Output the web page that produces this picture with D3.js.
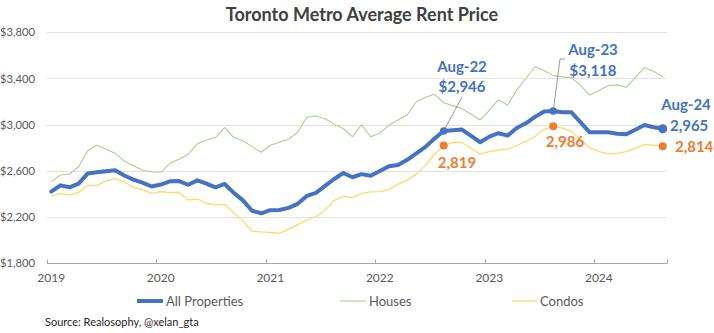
<!DOCTYPE html>
<html>
<head>
<meta charset="utf-8">
<script src="https://cdn.jsdelivr.net/npm/d3@7"></script>
<style>
  html, body { margin: 0; padding: 0; background: #fff; }
  svg { display: block; font-family: Lato, "Open Sans", sans-serif; }
</style>
</head>
<body>
<svg id="chart" width="714" height="333"></svg>
<script>
// Monthly categories, Jan 2019 – Aug 2024
const years = [2019, 2020, 2021, 2022, 2023, 2024];
const months = [];
years.forEach(y => {
  for (let m = 1; m <= 12; m++) {
    if (y === 2024 && m > 8) break;
    months.push(`${y}-${String(m).padStart(2, "0")}`);
  }
});

// Average rent, CAD
const allProperties = [
  2420, 2475, 2458, 2490, 2578, 2588, 2597, 2605, 2560, 2525, 2498, 2465,
  2482, 2510, 2512, 2480, 2518, 2490, 2458, 2487, 2410, 2345, 2255, 2233,
  2260, 2262, 2280, 2315, 2383, 2410, 2470, 2530, 2582, 2545, 2572, 2558,
  2600, 2640, 2651, 2696, 2752, 2808, 2880, 2946, 2952, 2958, 2903, 2848,
  2897, 2926, 2905, 2972, 3012, 3068, 3115, 3118, 3108, 3107, 3020, 2934,
  2934, 2934, 2922, 2917, 2957, 2997, 2978, 2965
];
const houses = [
  2507, 2565, 2573, 2636, 2775, 2822, 2787, 2752, 2685, 2644, 2605, 2593,
  2588, 2666, 2700, 2745, 2833, 2868, 2891, 2974, 2891, 2861, 2810, 2761,
  2822, 2848, 2874, 2935, 3064, 3075, 3052, 3005, 2965, 2896, 3000, 2896,
  2926, 2997, 3041, 3084, 3199, 3237, 3263, 3190, 3165, 3140, 3090, 3041,
  3127, 3215, 3170, 3300, 3400, 3502, 3470, 3425, 3414, 3407, 3340, 3257,
  3297, 3338, 3345, 3324, 3410, 3494, 3462, 3416
];
const condos = [
  2383, 2406, 2390, 2415, 2475, 2475, 2512, 2533, 2505, 2458, 2440, 2405,
  2420, 2413, 2413, 2348, 2357, 2320, 2305, 2311, 2238, 2165, 2078, 2072,
  2068, 2060, 2094, 2135, 2175, 2203, 2260, 2345, 2380, 2368, 2405, 2418,
  2420, 2438, 2485, 2520, 2570, 2648, 2745, 2819, 2846, 2846, 2796, 2746,
  2766, 2781, 2789, 2820, 2855, 2900, 2960, 2986, 2970, 2940, 2870, 2800,
  2770, 2748, 2752, 2766, 2798, 2830, 2822, 2814
];

const yTicks = [1800, 2200, 2600, 3000, 3400, 3800];
const yearLabels = ["2019", "2020", "2021", "2022", "2023", "2024"];
const highlights = ["2022-08", "2023-08", "2024-08"];

const BLUE = "#4472C4", GREEN = "#A9D18E", YELLOW = "#FFD966", ORANGE = "#ED7D31";
const TEXT = "#595959", GRID = "#E3E3E3", AXIS = "#A6A6A6";

const svg = d3.select("#chart");

const x = d3.scaleBand().domain(months).range([46.7, 667.3]);
const cx = m => x(m) + x.bandwidth() / 2;
const y = d3.scaleLinear().domain([1800, 3800]).range([263.3, 32.3]);

// Title
svg.append("text")
  .attr("x", 362).attr("y", 21)
  .attr("text-anchor", "middle")
  .attr("font-size", 18).attr("font-weight", 700)
  .attr("fill", "#404040")
  .text("Toronto Metro Average Rent Price");

// Horizontal gridlines and y labels
const yAxis = d3.axisLeft(y).tickValues(yTicks).tickSize(0)
  .tickFormat(d3.format("$,"));
svg.append("g")
  .attr("transform", "translate(35,0)")
  .call(yAxis)
  .call(g => g.select(".domain").remove())
  .call(g => g.selectAll("text").attr("x", 0).attr("fill", TEXT)
    .attr("font-size", 11.2).attr("font-family", "Lato, sans-serif"));

svg.append("g").selectAll("line")
  .data(yTicks.filter(t => t !== 1800))
  .join("line")
  .attr("x1", 46.7).attr("x2", 667.3)
  .attr("y1", d => Math.round(y(d)) + 0.5).attr("y2", d => Math.round(y(d)) + 0.5)
  .attr("stroke", GRID).attr("stroke-width", 1);

// X axis: ticks every 12 months at category boundaries, labels on January
const xAxisY = Math.round(y(1800)) + 0.5;
svg.append("line")
  .attr("x1", 46.7).attr("x2", 667.3)
  .attr("y1", xAxisY).attr("y2", xAxisY)
  .attr("stroke", AXIS).attr("stroke-width", 1);

const tickMonths = months.filter(m => m.endsWith("-01"));
svg.append("g").selectAll("line")
  .data([...tickMonths.map(m => x(m)), 667.3])
  .join("line")
  .attr("x1", d => Math.round(d) + 0.5).attr("x2", d => Math.round(d) + 0.5)
  .attr("y1", xAxisY - 4).attr("y2", xAxisY)
  .attr("stroke", AXIS);

svg.append("g").selectAll("text")
  .data(tickMonths)
  .join("text")
  .attr("x", d => cx(d)).attr("y", 282)
  .attr("text-anchor", "middle")
  .attr("font-size", 12).attr("fill", TEXT)
  .text((d, i) => yearLabels[i]);

// Series lines
const line = values => d3.line()
  .x((d, i) => cx(months[i]))
  .y(d => y(d))(values);

svg.append("path").attr("d", line(houses))
  .attr("fill", "none").attr("stroke", GREEN).attr("stroke-width", 1.1)
  .attr("stroke-linejoin", "round");
svg.append("path").attr("d", line(condos))
  .attr("fill", "none").attr("stroke", YELLOW).attr("stroke-width", 1.3)
  .attr("stroke-linejoin", "round");
svg.append("path").attr("d", line(allProperties))
  .attr("fill", "none").attr("stroke", BLUE).attr("stroke-width", 4)
  .attr("stroke-linejoin", "round").attr("stroke-linecap", "round");

// Highlight markers
const idx = m => months.indexOf(m);
svg.append("g").selectAll("circle")
  .data(highlights)
  .join("circle")
  .attr("cx", d => cx(d)).attr("cy", d => y(condos[idx(d)]))
  .attr("r", 4).attr("fill", ORANGE);
svg.append("g").selectAll("circle")
  .data(highlights)
  .join("circle")
  .attr("cx", d => cx(d)).attr("cy", d => y(allProperties[idx(d)]))
  .attr("r", (d, i) => i === 2 ? 4.5 : 3.8).attr("fill", BLUE);

// Leader lines
const i22 = idx("2022-08"), i23 = idx("2023-08"), i24 = idx("2024-08");
svg.append("line")
  .attr("x1", cx(months[i22])).attr("y1", y(allProperties[i22]))
  .attr("x2", 462).attr("y2", 97)
  .attr("stroke", "#7F7F7F").attr("stroke-width", 0.8);
svg.append("polyline")
  .attr("points", `${cx(months[i23])},${y(allProperties[i23])} 560,59 565,59`)
  .attr("fill", "none").attr("stroke", "#7F7F7F").attr("stroke-width", 0.8);

// Annotations
const money = d3.format("$,");
const num = d3.format(",");
const label = (tx, ty, txt, color, anchor = "middle") =>
  svg.append("text").attr("x", tx).attr("y", ty)
    .attr("text-anchor", anchor).attr("font-size", 15).attr("font-weight", 700)
    .attr("fill", color).text(txt);

label(462, 72, "Aug-22", BLUE);
label(462, 92, money(allProperties[i22]), BLUE);
label(593, 55, "Aug-23", BLUE);
label(593, 76, money(allProperties[i23]), BLUE);
label(686, 110, "Aug-24", BLUE);
label(670, 131, num(allProperties[i24]), BLUE, "start");

label(457, 168, num(condos[i22]), ORANGE);
label(565, 147, num(condos[i23]), ORANGE);
label(675, 152, num(condos[i24]), ORANGE, "start");

// Legend
const legend = [
  { name: "All Properties", color: BLUE, w: 4, x0: 137, x1: 163 },
  { name: "Houses", color: GREEN, w: 1.1, x0: 340, x1: 366 },
  { name: "Condos", color: YELLOW, w: 1.3, x0: 512, x1: 537 }
];
const lg = svg.append("g").selectAll("g").data(legend).join("g");
lg.append("line")
  .attr("x1", d => d.x0).attr("x2", d => d.x1)
  .attr("y1", 301).attr("y2", 301)
  .attr("stroke", d => d.color).attr("stroke-width", d => d.w);
lg.append("text")
  .attr("x", d => d.x1 + 3).attr("y", 305.5)
  .attr("font-size", 13).attr("fill", TEXT)
  .text(d => d.name);

// Source
svg.append("text")
  .attr("x", 45).attr("y", 326)
  .attr("font-size", 11).attr("fill", "#262626")
  .text("Source: Realosophy, @xelan_gta");
</script>
</body>
</html>
